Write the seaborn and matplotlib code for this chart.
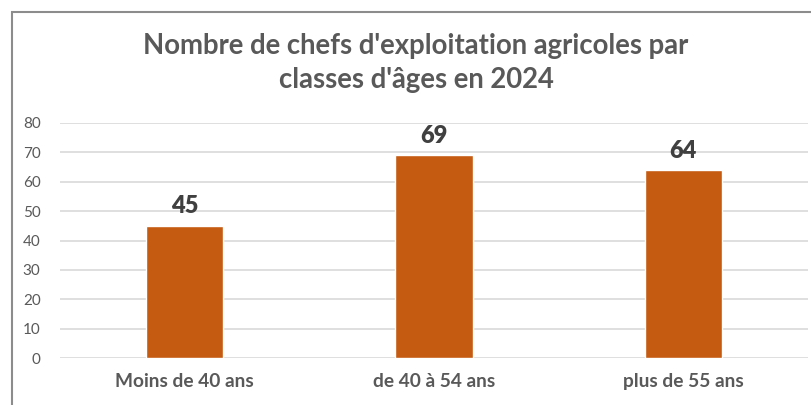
import matplotlib
matplotlib.use("Agg")
import matplotlib.pyplot as plt
from matplotlib.patches import Rectangle
import pandas as pd
import seaborn as sns

# Chart data
categories = ["Moins de 40 ans", "de 40 à 54 ans", "plus de 55 ans"]
chefs = [45, 69, 64]
y_ticks = [0, 10, 20, 30, 40, 50, 60, 70, 80]

title = "Nombre de chefs d'exploitation agricoles par\nclasses d'âges en 2024"

df = pd.DataFrame({"classe": categories, "chefs": chefs})

sns.set_style("white")
plt.rcParams["font.family"] = ["Lato", "DejaVu Sans"]

fig = plt.figure(figsize=(8.12, 4.05), dpi=100)
ax = fig.add_axes([60 / 812, 1 - 358 / 405, 748 / 812, 235 / 405])

sns.barplot(data=df, x="classe", y="chefs", color="#C55A11",
            width=0.31, saturation=1, ax=ax, zorder=3)

ax.set_ylim(0, 80)
ax.set_xlim(-0.5, 2.5)
ax.set_yticks(y_ticks)
ax.yaxis.grid(True, color="#d9d9d9", linewidth=1.2, zorder=0)
ax.set_axisbelow(True)
for side in ["top", "right", "left", "bottom"]:
    ax.spines[side].set_visible(False)
ax.tick_params(axis="both", length=0)
ax.tick_params(axis="y", labelsize=11, labelcolor="#595959", pad=14)
ax.tick_params(axis="x", labelsize=13.8, labelcolor="#595959", pad=11)
for lbl in ax.get_xticklabels():
    lbl.set_fontweight("bold")
ax.set_xlabel("")
ax.set_ylabel("")

for cont in ax.containers:
    ax.bar_label(cont, fmt="%d", padding=6, fontsize=17, fontweight="heavy",
                 color="#404040")

fig.text(416 / 812, 1 - 63 / 405, title, ha="center", va="center",
         fontsize=19.8, fontweight="bold", color="#595959", linespacing=1.4)

# outer chart border (only left and top edges visible in frame)
fig.add_artist(Rectangle((12 / 812, -0.2), 1.2, 1.2 - 12 / 405,
                         transform=fig.transFigure, fill=False,
                         edgecolor="#8c8c8c", linewidth=1.5))

fig.savefig("out.png", dpi=100)
plt.close(fig)
